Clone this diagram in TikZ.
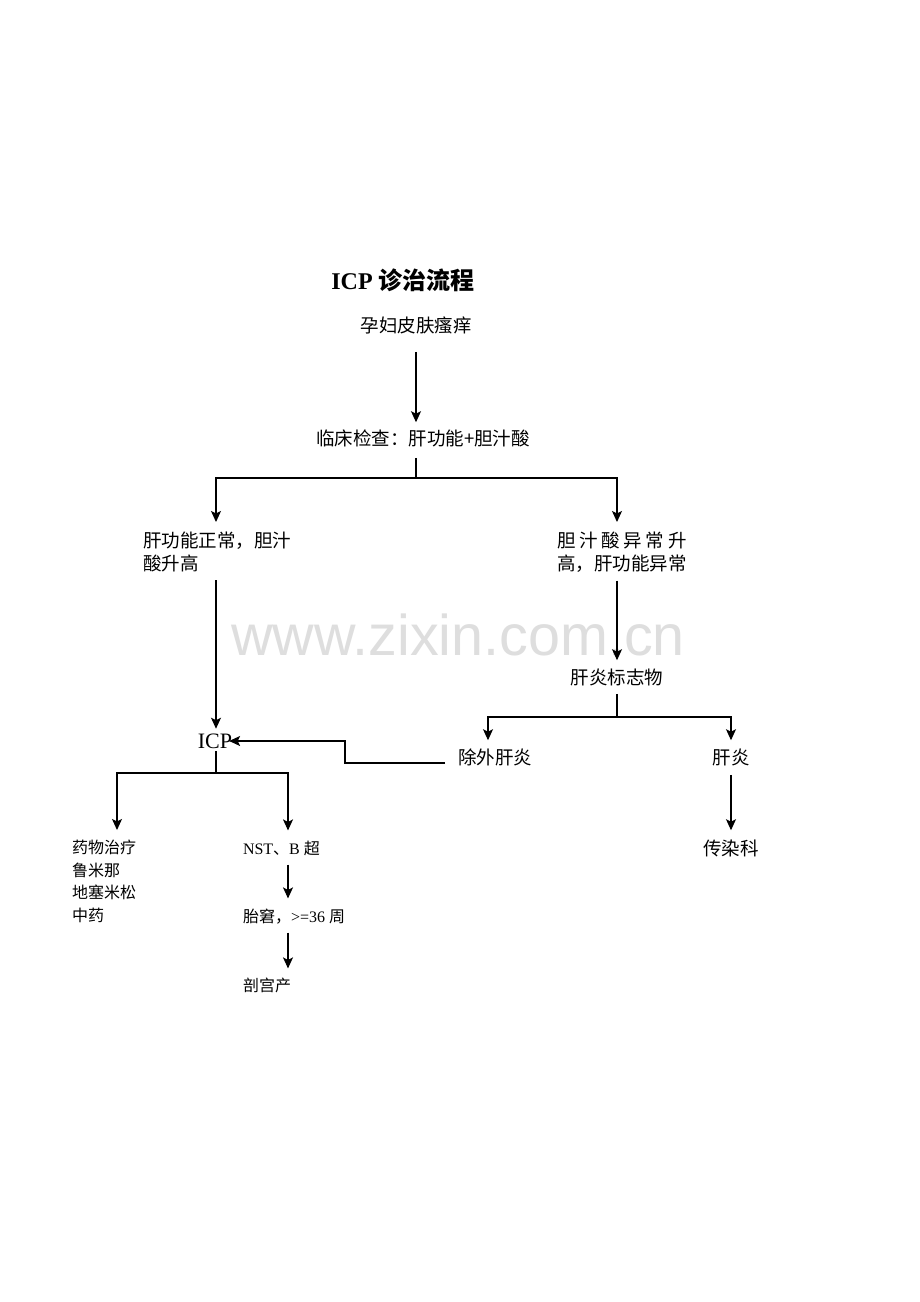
\documentclass[tikz,border=0pt]{standalone}
\usepackage{fontspec}
\setmainfont{Liberation Serif}
\newfontfamily\cjk{Noto Sans CJK SC}
\newfontfamily\wmfont{Liberation Sans}
\usetikzlibrary{arrows.meta}
\begin{document}
\begin{tikzpicture}[x=1pt,y=-1pt]
\tikzset{
  plain/.style={inner sep=0pt, outer sep=0pt},
  big/.style={plain, font=\cjk\fontsize{18.5}{23}\selectfont},
  bigline/.style={big, text height=15.7pt, text depth=1.85pt},
  small/.style={plain, font=\fontsize{16}{22.7}\selectfont},
  smallline/.style={small, text height=13.6pt, text depth=1.6pt},
  ln/.style={draw, line width=1.1pt},
  arr/.style={ln, -{Stealth[length=11pt,width=10pt,inset=2.5pt]}},
}
\fill[white] (0,0) rectangle (920,1302);
\useasboundingbox (0,0) rectangle (920,1302);

% watermark
\node[plain, anchor=base, font=\wmfont\fontsize{57.5}{60}\selectfont, text=black!13] (wm) at (458,655) {www.zixin.com.cn};

% title
\node[plain, anchor=base, font=\bfseries\fontsize{24}{28}\selectfont] (title) at (403,289) {ICP {\cjk 诊治流程}};

% nodes
\node[bigline] (n1) at (416,326) {孕妇皮肤瘙痒};
\node[bigline] (n2) at (423,439) {临床检查：肝功能+胆汁酸};
\node[big, align=left, anchor=north west] (n3) at (143,532) {肝功能正常，胆汁\\酸升高};
\node[big, align=left, anchor=north west] (n4) at (557,532) {\makebox[7em][s]{胆\hfill 汁\hfill 酸\hfill 异\hfill 常\hfill 升}\\高，肝功能异常};
\node[bigline] (n5) at (617,678) {肝炎标志物};
\node[bigline] (n6) at (495,758) {除外肝炎};
\node[bigline] (n7) at (731,758) {肝炎};
\node[bigline] (n8) at (731,849) {传染科};
\node[plain, font=\fontsize{22}{26}\selectfont, text height=14.6pt, text depth=0pt] (icp) at (215,741) {ICP};
\node[small, font=\cjk\fontsize{16}{22.7}\selectfont, align=left, anchor=north west] (n9) at (72,840) {药物治疗\\鲁米那\\地塞米松\\中药};
\node[smallline, anchor=west] (n10) at (243,848) {NST{\cjk 、}B {\cjk 超}};
\node[smallline, anchor=west] (n11) at (243,916) {{\cjk 胎窘，}>=36 {\cjk 周}};
\node[smallline, anchor=west, font=\cjk\fontsize{16}{22.7}\selectfont] (n12) at (243,985) {剖宫产};

% helper coordinates
\coordinate (xa) at (416,0);
\coordinate (xl) at (216,0);
\coordinate (xr) at (617,0);
\coordinate (xh1) at (488,0);
\coordinate (xh2) at (731,0);
\coordinate (xd) at (117,0);
\coordinate (xn) at (288,0);
\coordinate (xc) at (345,0);
\coordinate (b1) at (416,478);
\coordinate (b2) at (617,717);
\coordinate (b3) at (216,773);

% connectors
\draw[arr, shorten <=17pt, shorten >=8pt] (n1.south -| xa) -- (n2.north -| xa);
\draw[ln, shorten <=10pt] (n2.south -| xa) -- (b1);
\draw[arr, shorten >=10pt] (b1) -| (n3.north -| xl);
\draw[arr, shorten >=10pt] (b1) -| (n4.north -| xr);
\draw[arr, shorten <=8pt, shorten >=5pt] (n3.south -| xl) -- (icp.north -| xl);
\draw[arr, shorten <=8pt, shorten >=9pt] (n4.south -| xr) -- (n5.north -| xr);
\draw[ln, shorten <=7pt] (n5.south -| xr) -- (b2);
\draw[arr, shorten >=9pt] (b2) -| (n6.north -| xh1);
\draw[arr, shorten >=9pt] (b2) -| (n7.north -| xh2);
\draw[arr, shorten <=8pt, shorten >=10pt] (n7.south -| xh2) -- (n8.north -| xh2);
\draw[arr, shorten <=13pt, shorten >=-3pt] ([yshift=-5pt]n6.west) -- ([yshift=-5pt]n6.west -| xc) |- (icp.east);
\draw[ln, shorten <=3pt] (icp.south -| xl) -- (b3);
\draw[arr, shorten >=10pt] (b3) -| (n9.north -| xd);
\draw[arr, shorten >=10pt] (b3) -| (n10.north -| xn);
\draw[arr, shorten <=9pt, shorten >=10pt] (n10.south -| xn) -- (n11.north -| xn);
\draw[arr, shorten <=9pt, shorten >=9pt] (n11.south -| xn) -- (n12.north -| xn);
\end{tikzpicture}
\end{document}
